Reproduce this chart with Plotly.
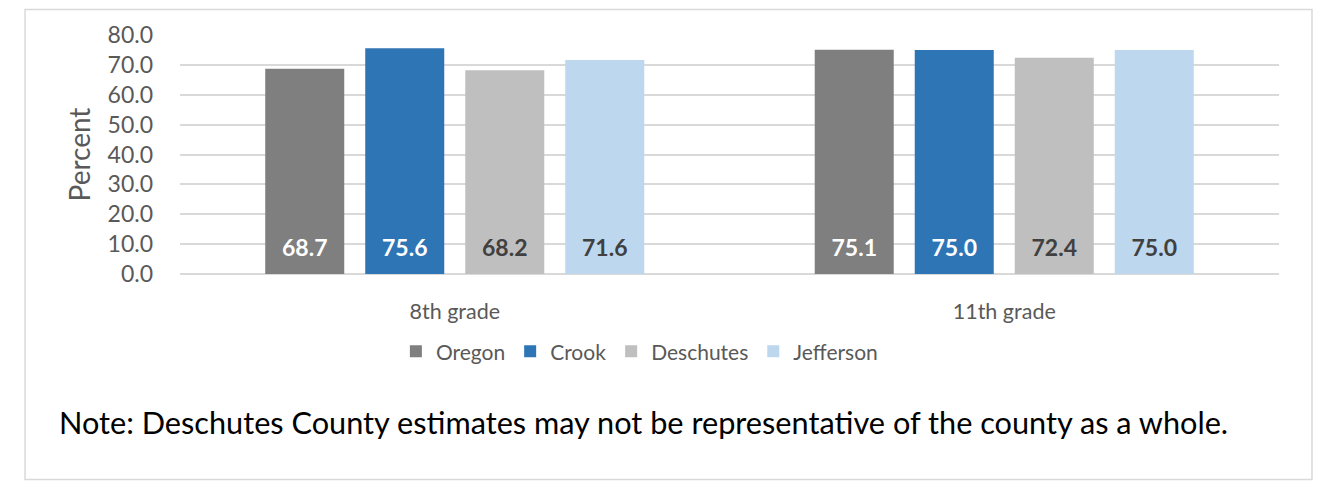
import plotly.graph_objects as go

grades = ["8th grade", "11th grade"]
oregon = [68.7, 75.1]
crook = [75.6, 75.0]
deschutes = [68.2, 72.4]
jefferson = [71.6, 75.0]

series = [
    ("Oregon", oregon, "#7F7F7F", "white"),
    ("Crook", crook, "#2E75B6", "white"),
    ("Deschutes", deschutes, "#BFBFBF", "#404040"),
    ("Jefferson", jefferson, "#BDD7EE", "#404040"),
]

FONT = "Lato, 'Open Sans', sans-serif"

fig = go.Figure()
for name, vals, color, tcolor in series:
    # a faint second line lifts the label a little off the bar base
    fig.add_trace(go.Bar(
        x=grades, y=vals, name=name, marker=dict(color=color, line=dict(width=0)),
        text=[f"<span style='font-size:23px'>{v:.1f}</span><br>"
              f"<span style='color:rgba(0,0,0,0)'>.</span>" for v in vals],
        textposition="inside", insidetextanchor="start", textangle=0,
        textfont=dict(family=FONT, size=10, color=tcolor, weight="bold"),
    ))

# the page body has an 8px margin, so the figure is shifted by 8px
fig.update_layout(
    width=1318, height=474,
    margin=dict(l=172, r=47, t=23, b=208),
    paper_bgcolor="white", plot_bgcolor="white",
    barmode="group", bargap=0.272, bargroupgap=0.21,
    font=dict(family=FONT, size=22, color="#595959"),
    showlegend=True,
    legend=dict(orientation="h", x=0.418, xanchor="center", y=-0.325, yanchor="middle",
                font=dict(size=21, color="#595959"), traceorder="normal"),
    xaxis=dict(showgrid=False, showline=False, ticks="", ticklabelstandoff=22,
               tickfont=dict(size=21.5, color="#595959")),
    yaxis=dict(range=[0, 80], dtick=10, tickformat=".1f", showgrid=True,
               gridcolor="#D9D9D9", gridwidth=1.5, zeroline=True, zerolinecolor="#D9D9D9",
               zerolinewidth=1.5, showline=False, ticks="", ticklabelstandoff=26,
               tickfont=dict(size=23, color="#595959"),
               title=dict(text="Percent", font=dict(size=28, color="#595959"), standoff=8)),
    shapes=[dict(type="rect", xref="paper", yref="paper", x0=-0.141, x1=1.030,
                 y0=-0.86, y1=1.107, line=dict(color="#D9D9D9", width=1.5),
                 fillcolor="rgba(0,0,0,0)", layer="below")],
    annotations=[dict(text="Note: Deschutes County estimates may not be representative of the county as a whole.",
                      xref="paper", yref="paper", x=-0.112, y=-0.621, xanchor="left",
                      yanchor="middle", showarrow=False,
                      font=dict(family=FONT, size=30.7, color="black"))],
)

fig.write_html("out.html")
